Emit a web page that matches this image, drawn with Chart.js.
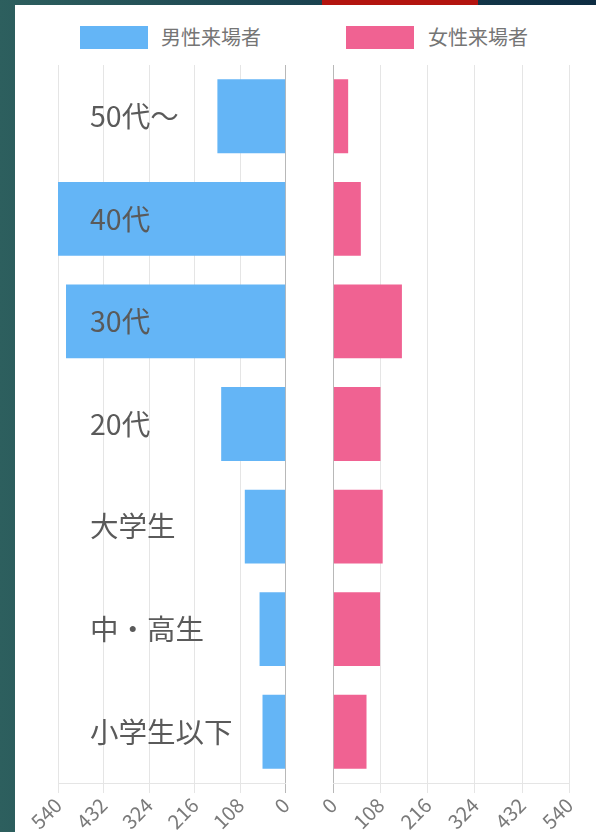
<!DOCTYPE html>
<html>
<head>
<meta charset="utf-8">
<script src="https://cdn.jsdelivr.net/npm/chart.js@4"></script>
<style>
html,body{margin:0;padding:0;width:596px;height:832px;overflow:hidden;}
body{position:relative;background:linear-gradient(90deg,#2d5f5e 0%,#1d4652 45%,#0d2c42 100%);font-family:'Noto Sans CJK JP',sans-serif;}
#red{position:absolute;left:322px;top:0;width:156px;height:5px;background:#b3140f;}
#card{position:absolute;left:15px;top:5px;width:581px;height:827px;background:#fff;}
.lg-box{position:absolute;top:26px;width:68px;height:23px;}
.lg-text{position:absolute;top:22px;font-size:20px;line-height:30px;color:#757575;white-space:nowrap;}
#w1{position:absolute;left:15px;top:55px;width:285px;height:778px;}
#w2{position:absolute;left:300px;top:55px;width:296px;height:778px;}
</style>
</head>
<body>
<div id="red"></div>
<div id="card"></div>
<div id="legend"></div>
<div id="w1"><canvas id="c1"></canvas></div>
<div id="w2"><canvas id="c2"></canvas></div>
<script>
const categories = ['50代～', '40代', '30代', '20代', '大学生', '中・高生', '小学生以下'];
const maleValues = [162, 540, 521, 153, 97, 62, 55];
const femaleValues = [34, 63, 157, 108, 113, 107, 76];
const seriesNames = ['男性来場者', '女性来場者'];
const seriesColors = ['#64b5f6', '#f06292'];
const tickValues = [0, 108, 216, 324, 432, 540];

// HTML legend built from series names/colors
const legend = document.getElementById('legend');
const boxX = [80, 346];
const textX = [161, 428];
seriesNames.forEach((name, i) => {
  const b = document.createElement('div');
  b.className = 'lg-box';
  b.style.left = boxX[i] + 'px';
  b.style.background = seriesColors[i];
  legend.appendChild(b);
  const t = document.createElement('div');
  t.className = 'lg-text';
  t.style.left = textX[i] + 'px';
  t.textContent = name;
  legend.appendChild(t);
});

const FONT = "'Noto Sans CJK JP', sans-serif";
function gridColor(ctx) {
  return ctx.tick && ctx.tick.value === 0 ? 'rgba(0,0,0,0.28)' : 'rgba(0,0,0,0.1)';
}
function xScale(reverse) {
  return {
    type: 'linear',
    min: tickValues[0],
    max: tickValues[tickValues.length - 1],
    reverse: reverse,
    afterBuildTicks: (s) => { s.ticks = tickValues.map(v => ({value: v})); },
    afterFit: (s) => { s.height = 50; },
    grid: { color: gridColor, tickLength: 10, lineWidth: 1 },
    border: { display: true, color: 'rgba(0,0,0,0.1)' },
    ticks: {
      minRotation: 45, maxRotation: 45, padding: 0,
      color: '#7a7a7a', font: { family: FONT, size: 20 }
    }
  };
}
const baseOptions = {
  indexAxis: 'y',
  responsive: true,
  maintainAspectRatio: false,
  animation: false,
  devicePixelRatio: 1,
  plugins: { legend: { display: false }, tooltip: { enabled: false } }
};

new Chart(document.getElementById('c1'), {
  type: 'bar',
  data: {
    labels: categories,
    datasets: [{ label: seriesNames[0], data: maleValues, backgroundColor: seriesColors[0], borderWidth: 0 }]
  },
  options: Object.assign({}, baseOptions, {
    layout: { padding: { top: 10, right: 14.3, left: 0, bottom: 0 } },
    scales: {
      x: xScale(true),
      y: {
        position: 'left',
        afterFit: (s) => { s.width = 43; s.paddingTop = 0; s.paddingBottom = 0; },
        grid: { display: false, drawTicks: false },
        border: { display: false },
        ticks: { z: 1, mirror: true, padding: 32, color: '#5a5a5a', font: { family: FONT, size: 28.5 } }
      }
    }
  })
});

new Chart(document.getElementById('c2'), {
  type: 'bar',
  data: {
    labels: categories,
    datasets: [{ label: seriesNames[1], data: femaleValues, backgroundColor: seriesColors[1], borderWidth: 0 }]
  },
  options: Object.assign({}, baseOptions, {
    layout: { padding: { top: 10, right: 26.7, left: 33.3, bottom: 0 } },
    scales: {
      x: xScale(false),
      y: { display: false }
    }
  })
});
</script>
</body>
</html>
